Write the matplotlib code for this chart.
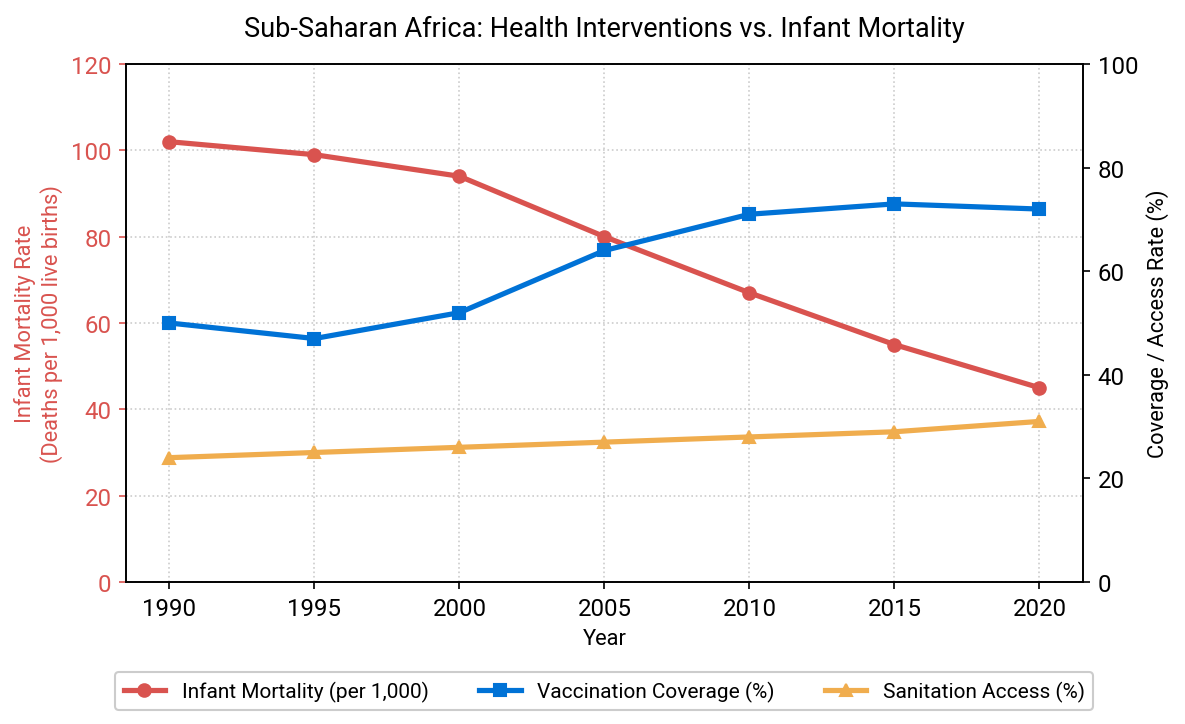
import numpy as np
import matplotlib.pyplot as plt

plt.rcParams['font.family'] = ['Roboto', 'DejaVu Sans']

years = [1990, 1995, 2000, 2005, 2010, 2015, 2020]
infant_mortality = [102, 99, 94, 80, 67, 55, 45]
vaccination = [50, 47, 52, 64, 71, 73, 72]
sanitation = [24, 25, 26, 27, 28, 29, 31]

red = '#d9534f'
blue = '#0072d6'
orange = '#f0ad4e'

fig = plt.figure(figsize=(7.9, 4.8333), dpi=150)
ax1 = fig.add_axes([0.1063, 0.1959, 0.8076, 0.7144])
ax2 = ax1.twinx()

l1, = ax1.plot(years, infant_mortality, color=red, marker='o', lw=2.5, ms=6,
               label='Infant Mortality (per 1,000)')
l2, = ax2.plot(years, vaccination, color=blue, marker='s', lw=2.5, ms=6,
               label='Vaccination Coverage (%)')
l3, = ax2.plot(years, sanitation, color=orange, marker='^', lw=2.5, ms=6,
               label='Sanitation Access (%)')

ax1.set_ylim(0, 120)
ax2.set_ylim(0, 100)
ax1.set_xticks(years)
ax1.grid(True, linestyle=':', color='#cccccc', lw=0.8)
ax1.set_axisbelow(True)

ax1.set_xlabel('Year', fontsize=10.5)
ax1.set_ylabel('Infant Mortality Rate\n(Deaths per 1,000 live births)', color=red, fontsize=10.5)
ax2.set_ylabel('Coverage / Access Rate (%)', fontsize=10.5)
ax1.tick_params(axis='y', colors=red, labelsize=11.5)
ax1.tick_params(axis='x', labelsize=11.5)
ax2.tick_params(axis='y', labelsize=11.5)

fig.suptitle('Sub-Saharan Africa: Health Interventions vs. Infant Mortality',
             fontsize=13, x=0.51, y=0.978)

fig.legend(handles=[l1, l2, l3], loc='lower center', ncol=3, fontsize=10,
           bbox_to_anchor=(0.51, 0.005), columnspacing=2.4, framealpha=1)

fig.savefig('out.png', dpi=150)
